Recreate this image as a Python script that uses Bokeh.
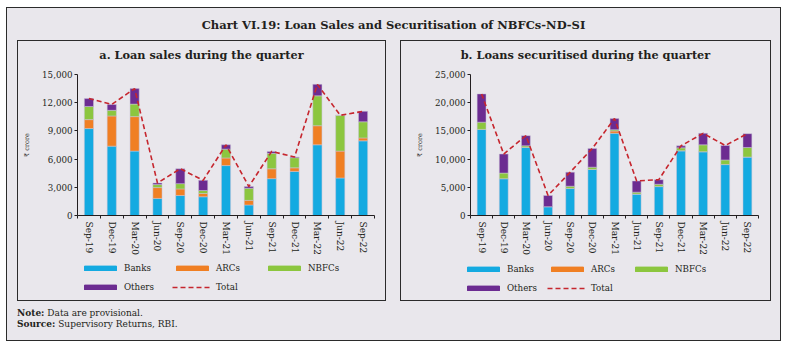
from bokeh.plotting import figure
from bokeh.models import (Range1d, FixedTicker, NumeralTickFormatter, Legend,
                          LegendItem, Div, ColumnDataSource)
from bokeh.layouts import column, row
from bokeh.embed import file_html
from bokeh.resources import INLINE

# ---------------- data ----------------
quarters = ["Sep-19", "Dec-19", "Mar-20", "Jun-20", "Sep-20", "Dec-20", "Mar-21",
            "Jun-21", "Sep-21", "Dec-21", "Mar-22", "Jun-22", "Sep-22"]
series_names = ["Banks", "ARCs", "NBFCs", "Others"]

# a. Loan sales during the quarter (Rs crore)
sales_banks = [9250, 7380, 6850, 1820, 2130, 1990, 5310, 1120, 3920, 4690, 7520, 3990, 7940]
sales_arcs = [950, 3210, 3670, 1150, 700, 350, 810, 490, 1050, 380, 2030, 2860, 310]
sales_nbfcs = [1400, 600, 1330, 320, 560, 320, 940, 1290, 1640, 1080, 3180, 3810, 1720]
sales_others = [840, 630, 1650, 170, 1580, 1080, 460, 180, 210, 70, 1220, 0, 1110]
sales_total = [12440, 11820, 13500, 3460, 4970, 3740, 7520, 3080, 6820, 6220, 13950, 10660, 11080]
sales_yticks = [0, 3000, 6000, 9000, 12000, 15000]

# b. Loans securitised during the quarter (Rs crore)
sec_banks = [15270, 6530, 12060, 1570, 4780, 8160, 14570, 3790, 5130, 11480, 11310, 9030, 10370]
sec_arcs = [0, 0, 0, 0, 0, 0, 410, 0, 0, 0, 0, 0, 0]
sec_nbfcs = [1280, 990, 290, 0, 410, 410, 230, 350, 410, 520, 1220, 820, 1690]
sec_others = [5010, 3380, 1810, 1980, 2500, 3320, 1980, 1980, 810, 350, 2040, 2560, 2450]
sec_total = [21560, 10900, 14160, 3550, 7690, 11890, 17190, 6120, 6350, 12350, 14570, 12410, 14510]
sec_yticks = [0, 5000, 10000, 15000, 20000, 25000]

# ---------------- style ----------------
BG = "#E9E7EC"
INK = "#231F20"
EDGE = "#2B2B2B"
COLORS = ["#14AAE1", "#F07F23", "#8CC63F", "#6C2C91"]
RED = "#C6262E"
FONT = "DejaVu Serif"


def make_chart(banks, arcs, nbfcs, others, total, yticks, width, min_left, min_right):
    n = len(quarters)
    xs = list(range(n))
    p = figure(width=width, height=188, x_range=Range1d(-0.5, n - 0.5),
               y_range=Range1d(yticks[0], yticks[-1]),
               output_backend="svg", toolbar_location=None,
               min_border_left=min_left, min_border_right=min_right,
               min_border_top=5, min_border_bottom=40, frame_align=False,
               background_fill_color=BG, border_fill_color=BG,
               outline_line_color=None, margin=0)
    p.xgrid.visible = False
    p.ygrid.visible = False

    src = ColumnDataSource(dict(x=xs, Banks=banks, ARCs=arcs, NBFCs=nbfcs, Others=others))
    p.vbar_stack(series_names, x="x", width=0.4, color=COLORS, source=src,
                 line_color="#C9C4D8", line_width=0.5)
    p.line(xs, total, line_color=RED, line_width=1.6, line_dash="5 3")

    xa = p.xaxis[0]
    xa.ticker = FixedTicker(ticks=xs, minor_ticks=[i - 0.5 for i in range(n + 1)])
    xa.major_label_overrides = {i: q for i, q in enumerate(quarters)}
    xa.major_label_orientation = "vertical"
    xa.major_tick_out = 0
    xa.major_tick_in = 0
    xa.minor_tick_out = 3
    xa.minor_tick_in = 0
    xa.minor_tick_line_color = INK
    xa.major_label_standoff = 3
    xa.major_label_text_font = FONT
    xa.major_label_text_font_size = "9px"
    xa.major_label_text_color = INK
    xa.axis_line_color = INK

    ya = p.yaxis[0]
    ya.ticker = FixedTicker(ticks=yticks, minor_ticks=[])
    ya.formatter = NumeralTickFormatter(format="0,0")
    ya.major_tick_out = 3
    ya.major_tick_in = 0
    ya.major_tick_line_color = INK
    ya.minor_tick_line_color = None
    ya.major_label_standoff = 2
    ya.major_label_text_font = FONT
    ya.major_label_text_font_size = "8.7px"
    ya.major_label_text_color = INK
    ya.axis_line_color = INK
    ya.axis_label = "\u20b9 crore"
    ya.axis_label_text_font = FONT
    ya.axis_label_text_font_size = "6.5px"
    ya.axis_label_text_font_style = "normal"
    ya.axis_label_text_color = INK
    ya.axis_label_standoff = 8
    return p


def make_legend(width, loc, label_width):
    # legend-only strip: its renderers sit outside the visible y range
    p = figure(width=width, height=43, x_range=Range1d(0, 1), y_range=Range1d(1, 2),
               x_axis_type=None, y_axis_type=None,
               output_backend="svg", toolbar_location=None, frame_align=False,
               min_border=0, background_fill_color=BG, border_fill_color=BG,
               outline_line_color=None, margin=0)
    p.xgrid.visible = False
    p.ygrid.visible = False
    items = []
    for nm, c in zip(series_names, COLORS):
        r = p.vbar(x="x", top="top", width=0.4, fill_color=c, line_color=c,
                   source=ColumnDataSource(dict(x=[0], top=[0])))
        items.append(LegendItem(label=nm, renderers=[r]))
    rl = p.line(x="x", y="y", line_color=RED, line_width=1.6, line_dash="5 3",
                source=ColumnDataSource(dict(x=[0, 1], y=[0, 0])))
    items.append(LegendItem(label="Total", renderers=[rl]))
    leg = Legend(items=items, location=loc, orientation="horizontal", ncols=3,
                 glyph_width=40, glyph_height=6, label_height=12, label_width=label_width,
                 label_standoff=4, spacing=7, padding=0, margin=0,
                 border_line_color=None, background_fill_alpha=0,
                 label_text_font=FONT, label_text_font_size="8.7px",
                 label_text_color=INK)
    p.add_layout(leg)
    return p


def title_div(text, width):
    return Div(text=('<div style="width:%dpx;line-height:28px;text-align:center;'
                     'font-family:\'DejaVu Serif\';font-weight:bold;font-size:11.3px;'
                     'color:#231F20;white-space:nowrap;">%s</div>' % (width, text)),
               width=width, height=28, margin=0)


chart_a = make_chart(sales_banks, sales_arcs, sales_nbfcs, sales_others, sales_total,
                     sales_yticks, width=367, min_left=59, min_right=11)
chart_b = make_chart(sec_banks, sec_arcs, sec_nbfcs, sec_others, sec_total,
                     sec_yticks, width=369, min_left=69, min_right=12)
leg_a = make_legend(367, (62, 7), 41)
leg_b = make_legend(369, (62, 6), 33)

inner_a = column(title_div("a. Loan sales during the quarter", 367), chart_a, leg_a,
                 width=367, height=259, margin=(1, 1, 1, 1), styles={"background-color": BG})
inner_b = column(title_div("b. Loans securitised during the quarter", 369), chart_b, leg_b,
                 width=369, height=259, margin=(1, 1, 1, 1), styles={"background-color": BG})
wrap_a = column(inner_a, width=369, height=261, margin=(0, 0, 0, 10),
                styles={"background-color": EDGE})
wrap_b = column(inner_b, width=371, height=261, margin=(0, 0, 0, 14),
                styles={"background-color": EDGE})
panels = row(wrap_a, wrap_b, width=773, height=261)

main_title = Div(text=('<div style="width:773px;line-height:35px;text-align:center;'
                       'font-family:\'DejaVu Serif\';font-weight:bold;font-size:11.5px;'
                       'color:#231F20;">Chart VI.19: Loan Sales and Securitisation of '
                       'NBFCs-ND-SI</div>'),
                 width=773, height=32, margin=0)
note_div = Div(text=('<div style="padding-top:7px;padding-left:10px;line-height:11px;'
                     'font-family:\'DejaVu Serif\';font-size:9px;color:#231F20;">'
                     '<b>Note:</b> Data are provisional.<br>'
                     '<b>Source:</b> Supervisory Returns, RBI.</div>'),
               width=773, height=39, margin=0)

content = column(main_title, panels, note_div, width=773, height=332, margin=(1, 1, 1, 1),
                 styles={"background-color": BG})
frame = column(content, width=775, height=334, margin=(7, 0, 0, 6),
               styles={"background-color": EDGE})
root = column(frame, width=789, height=350)

open("out.html", "w").write(file_html(root, INLINE))
